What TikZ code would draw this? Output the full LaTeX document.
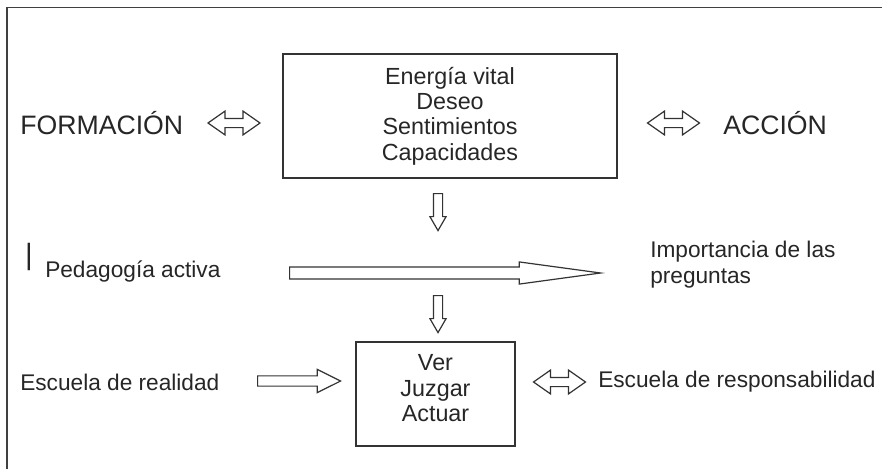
\documentclass[tikz,border=0pt]{standalone}
\usepackage{fontspec}
\setmainfont{Liberation Sans}
\usepackage{tikz}
\usetikzlibrary{shapes.arrows, positioning}

\begin{document}
\begin{tikzpicture}[
    x=0.75pt, y=-0.75pt,
    caja/.style={draw=black!80, line width=1.1pt, rectangle, align=center, text=black!85, font=\fontsize{17.5}{19}\selectfont},
    texto/.style={anchor=west, inner sep=0pt, align=left, text=black!85, font=\fontsize{17}{19}\selectfont},
    titulo/.style={anchor=west, inner sep=0pt, text=black!85, font=\fontsize{20}{24}\selectfont},
    flecha/.style={draw=black!80, line width=0.9pt, single arrow, inner sep=0pt, text width=0pt, anchor=tail},
    dobleflecha/.style={draw=black!80, line width=0.9pt, double arrow, inner sep=0pt, text width=0pt,
        text height=3pt, text depth=3pt, minimum height=39pt, double arrow head extend=5.5pt, double arrow tip angle=70}
]
    \useasboundingbox (0,0) rectangle (882,468);

    % marco
    \draw[black!75, line width=1.2pt] (7,470) -- (7,7.5) -- (884,7.5);

    % cajas
    \node[caja, minimum width=250.5pt, minimum height=93pt] (vida) at (450,116)
        {Energía vital\\Deseo\\Sentimientos\\Capacidades};
    \node[caja, minimum width=119.25pt, minimum height=78pt, text depth=9pt] (vja) at (435.5,394)
        {Ver\\Juzgar\\Actuar};

    % textos
    \node[texto, anchor=center, font=\fontsize{22}{24}\selectfont] (barra) at (29,257) {|};
    \node[titulo] (formacion) at (20,123) {FORMACIÓN};
    \node[titulo] (accion) at (723,123) {ACCIÓN};
    \node[texto] (pedagogia) at (45,272) {Pedagogía activa};
    \node[texto] (preguntas) at (650,264.5) {Importancia de las\\preguntas};
    \node[texto] (realidad) at (20,382) {Escuela de realidad};
    \node[texto] (responsabilidad) at (598,382) {Escuela de responsabilidad};

    % flechas
    \node[dobleflecha] (fl1) at (234,123) {};
    \node[dobleflecha] (fl2) at (673.5,123) {};
    \node[dobleflecha] (fl3) at (559.5,382) {};
    \node[flecha, rotate=-90, text height=3pt, text depth=3pt, minimum height=27.75pt,
        single arrow head extend=2.6pt, single arrow tip angle=60] (baja1) at (438,193) {};
    \node[flecha, rotate=-90, text height=3pt, text depth=3pt, minimum height=27.75pt,
        single arrow head extend=2.6pt, single arrow tip angle=60] (baja2) at (438,295) {};
    \node[flecha, text height=4.1pt, text depth=4.1pt, minimum height=233.25pt,
        single arrow head extend=3.75pt, single arrow tip angle=15.5] (larga) at (289,273) {};
    \node[flecha, text height=3.4pt, text depth=3.4pt, minimum height=62.25pt,
        single arrow head extend=4.9pt, single arrow tip angle=53] (entra) at (257,381) {};
\end{tikzpicture}
\end{document}
